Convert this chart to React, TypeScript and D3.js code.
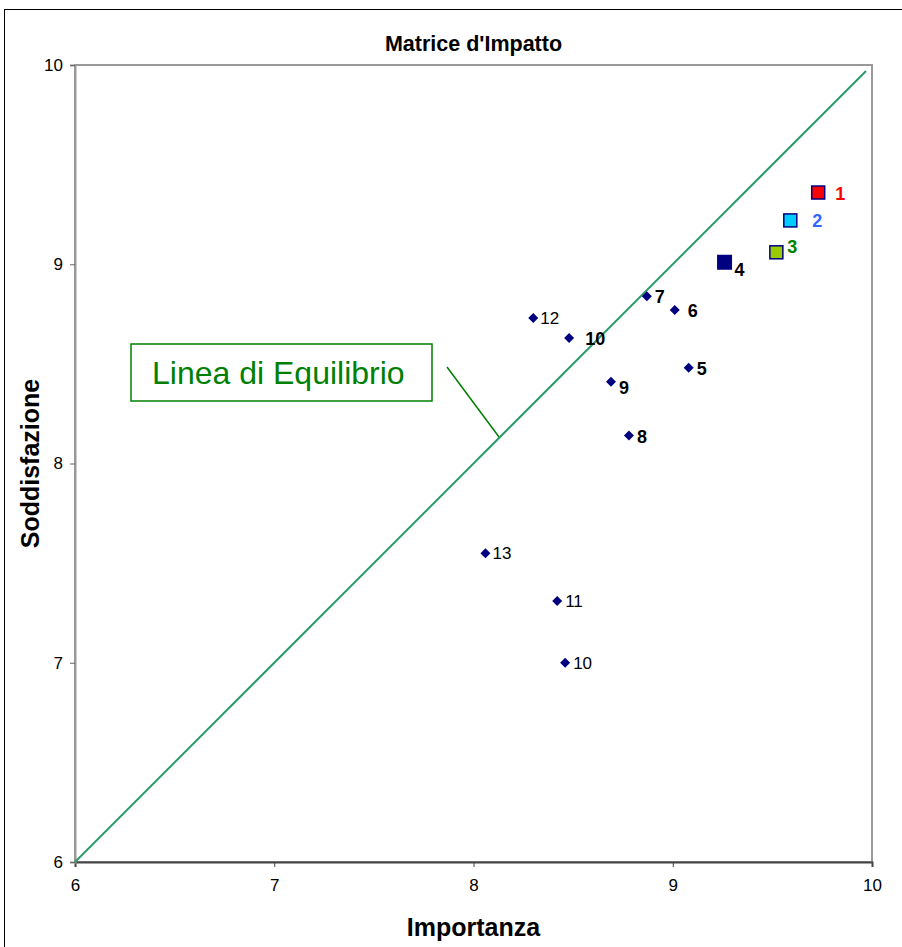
import * as d3 from 'd3'
import { useEffect, useRef } from 'react'

// Importanza (x) and Soddisfazione (y) per item
const labels = ['1', '2', '3', '4', '7', '6', '12', '10', '5', '9', '8', '13', '11', '10']
const importanza = [9.73, 9.59, 9.52, 9.26, 8.87, 9.01, 8.30, 8.48, 9.08, 8.69, 8.78, 8.06, 8.42, 8.46]
const soddisfazione = [9.36, 9.22, 9.06, 9.01, 8.84, 8.77, 8.73, 8.63, 8.48, 8.41, 8.14, 7.55, 7.31, 7.0]
const xTicks = [6, 7, 8, 9, 10]
const yTicks = [6, 7, 8, 9, 10]
const equilibrio = [
  [6, 6],
  [9.97, 9.97],
]

// marker kind and label styling per item index
const markerKind = ['sq', 'sq', 'sq', 'big', 'dia', 'dia', 'dia', 'dia', 'dia', 'dia', 'dia', 'dia', 'dia', 'dia']
const squareFill = ['#ff0000', '#00ccff', '#99cc00']
const labelColor = ['#ff0000', '#3366ff', '#008000']
const boldLabel = [true, true, true, true, true, true, false, true, true, true, true, false, false, false]
const labelOffset: [number, number][] = [
  [17, 7], [22, 7], [11, 1], [10, 14], [8, 7], [13, 7], [7, 6], [16, 7],
  [8, 7], [8, 12], [8, 7], [7, 6], [8, 6], [8, 6],
]

const FONT = '"Liberation Sans", Arial, sans-serif'

export default function App() {
  const ref = useRef<HTMLDivElement | null>(null)

  useEffect(() => {
    const width = 902
    const height = 947
    const marginLeft = 75
    const marginRight = 30
    const marginTop = 65
    const marginBottom = 85

    const x = d3.scaleLinear().domain([6, 10]).range([marginLeft, width - marginRight])
    const y = d3.scaleLinear().domain([6, 10]).range([height - marginBottom, marginTop])

    const svg = d3
      .create('svg')
      .attr('width', width)
      .attr('height', height)
      .attr('viewBox', [0, 0, width, height])
      .style('position', 'absolute')
      .style('left', '0px')
      .style('top', '0px')
      .style('font-family', FONT)

    svg.append('rect').attr('width', width).attr('height', height).attr('fill', '#fff')

    // outer chart frame
    svg
      .append('rect')
      .attr('x', 4.5)
      .attr('y', 9.5)
      .attr('width', width + 10)
      .attr('height', height + 10)
      .attr('fill', 'none')
      .attr('stroke', '#000')

    // plot frame
    svg
      .append('rect')
      .attr('x', x(6))
      .attr('y', y(10))
      .attr('width', x(10) - x(6))
      .attr('height', y(6) - y(10))
      .attr('fill', 'none')
      .attr('stroke', '#999')
      .attr('stroke-width', 2)

    // X axis
    const xAxis = svg
      .append('g')
      .attr('transform', `translate(0,${y(6)})`)
      .call(d3.axisBottom(x).tickValues(xTicks).tickSize(5).tickPadding(12).tickFormat(d3.format('d')))
    xAxis.select('.domain').attr('stroke', '#444').attr('stroke-width', 2)
    xAxis.selectAll('.tick line').attr('stroke', '#444')
    xAxis
      .selectAll('.tick text')
      .attr('fill', '#000')
      .attr('style', `font-size: 17px; font-family: ${FONT};`)

    // Y axis
    const yAxis = svg
      .append('g')
      .attr('transform', `translate(${x(6)},0)`)
      .call(d3.axisLeft(y).tickValues(yTicks).tickSize(5).tickPadding(7).tickFormat(d3.format('d')))
    yAxis.select('.domain').attr('stroke', '#999').attr('stroke-width', 2)
    yAxis.selectAll('.tick line').attr('stroke', '#666')
    yAxis
      .selectAll('.tick text')
      .attr('fill', '#000')
      .attr('style', `font-size: 17px; font-family: ${FONT};`)

    // equilibrium line
    svg
      .append('path')
      .attr('d', d3.line().x((d) => x(d[0])).y((d) => y(d[1]))(equilibrio as [number, number][]))
      .attr('stroke', '#2e9a6a')
      .attr('stroke-width', 2)
      .attr('fill', 'none')

    // points
    const pts = svg.append('g')
    labels.forEach((lab, i) => {
      const cx = x(importanza[i])
      const cy = y(soddisfazione[i])
      const kind = markerKind[i]
      if (kind === 'dia') {
        pts
          .append('path')
          .attr('d', `M${cx},${cy - 5}L${cx + 5},${cy}L${cx},${cy + 5}L${cx - 5},${cy}Z`)
          .attr('fill', '#000080')
      } else if (kind === 'sq') {
        pts
          .append('rect')
          .attr('x', cx - 6.5)
          .attr('y', cy - 6.5)
          .attr('width', 13)
          .attr('height', 13)
          .attr('fill', squareFill[i])
          .attr('stroke', '#000080')
          .attr('stroke-width', 1.5)
      } else {
        pts
          .append('rect')
          .attr('x', cx - 7.5)
          .attr('y', cy - 7.5)
          .attr('width', 15)
          .attr('height', 15)
          .attr('fill', '#000080')
      }
      pts
        .append('text')
        .attr('x', cx + labelOffset[i][0])
        .attr('y', cy + labelOffset[i][1])
        .attr('font-size', boldLabel[i] ? 18 : 17)
        .attr('font-weight', boldLabel[i] ? 'bold' : 'normal')
        .attr('fill', labelColor[i] ?? '#000')
        .text(lab)
    })

    // annotation
    svg
      .append('rect')
      .attr('x', 131)
      .attr('y', 344)
      .attr('width', 301)
      .attr('height', 57)
      .attr('fill', '#fff')
      .attr('stroke', '#008000')
      .attr('stroke-width', 1.5)
    svg
      .append('text')
      .attr('x', 152)
      .attr('y', 384)
      .attr('font-size', 32)
      .attr('fill', '#008000')
      .text('Linea di Equilibrio')
    svg
      .append('line')
      .attr('x1', 447)
      .attr('y1', 367)
      .attr('x2', 499)
      .attr('y2', 437)
      .attr('stroke', '#008000')
      .attr('stroke-width', 1.5)

    // titles
    svg
      .append('text')
      .attr('x', (x(6) + x(10)) / 2)
      .attr('y', 51)
      .attr('text-anchor', 'middle')
      .attr('font-size', 21.5)
      .attr('font-weight', 'bold')
      .text("Matrice d'Impatto")
    svg
      .append('text')
      .attr('x', (x(6) + x(10)) / 2)
      .attr('y', 936)
      .attr('text-anchor', 'middle')
      .attr('font-size', 25)
      .attr('font-weight', 'bold')
      .text('Importanza')
    svg
      .append('text')
      .attr('transform', `translate(39,${(y(6) + y(10)) / 2}) rotate(-90)`)
      .attr('text-anchor', 'middle')
      .attr('font-size', 25)
      .attr('font-weight', 'bold')
      .text('Soddisfazione')

    if (ref.current) {
      ref.current.innerHTML = ''
      ref.current.appendChild(svg.node()!)
    }
  }, [])

  return <div ref={ref} />
}
